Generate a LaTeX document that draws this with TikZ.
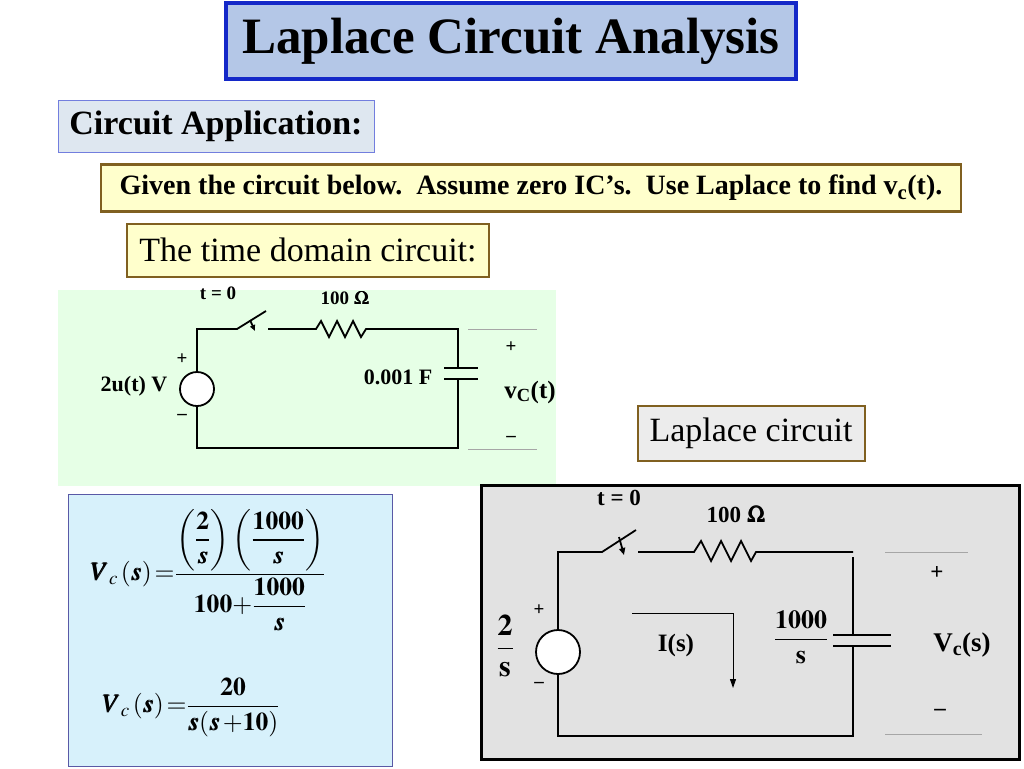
\documentclass[tikz,border=0pt]{standalone}
\usepackage{amsmath}
\usepackage{mathptmx}
\usepackage{bm}
\usepackage{fontspec}
\setmainfont{Liberation Serif}
\usetikzlibrary{arrows.meta}
\definecolor{titlefill}{RGB}{180,199,231}
\definecolor{titleborder}{RGB}{20,40,200}
\definecolor{appfill}{RGB}{222,231,240}
\definecolor{ylw}{RGB}{255,255,204}
\definecolor{brn}{RGB}{128,96,32}
\definecolor{grn}{RGB}{230,255,230}
\definecolor{blu}{RGB}{215,241,251}
\definecolor{gry}{RGB}{226,226,226}
\definecolor{lgry}{RGB}{236,236,236}
\tikzset{
 wire/.style={line width=1.8pt},
 thin/.style={draw=gray!70,line width=0.6pt},
 lbl/.style={font=\bfseries\fontsize{19}{21}\selectfont,inner sep=0},
 glbl/.style={font=\bfseries\fontsize{23}{25}\selectfont,inner sep=0},
 hdr/.style={font=\fontsize{34}{36}\selectfont,inner sep=0},
}
\begin{document}
\begin{tikzpicture}[x=1pt,y=-1pt]
\useasboundingbox[fill=white] (0,0) rectangle (1024,768);
% title
\node[draw=titleborder,line width=3.5pt,fill=titlefill,minimum width=570,minimum height=76,font=\bfseries\fontsize{51}{54}\selectfont] (title) at (511,41) {Laplace Circuit Analysis};
\node[draw=titleborder!60,line width=0.8pt,fill=appfill,minimum width=316,minimum height=52,font=\bfseries\fontsize{34}{36}\selectfont] (app) at (216,126) {Circuit Application:};
\node[draw=brn,line width=2.5pt,fill=ylw,minimum width=860,minimum height=47,font=\bfseries\fontsize{28}{30}\selectfont] (given) at (531,188) {Given the circuit below.\ \ Assume zero IC’s.\ \ Use Laplace to find v\textsubscript{c}(t).};
\node[draw=brn,line width=2pt,fill=ylw,minimum width=362,minimum height=53,hdr] (tdc) at (308,250) {The time domain circuit:};
% green panel
\fill[grn] (58,290) rectangle (556,486);
\coordinate (a1) at (197,329); \coordinate (a2) at (458,329);
\coordinate (a3) at (458,448); \coordinate (a4) at (197,448);
\node[draw,circle,line width=1.8pt,fill=white,minimum size=34,inner sep=0] (src1) at (197,389) {};
\draw[wire] (src1.north) -- (a1) -- (237,329) -- (266,311);
\draw[wire,-{Triangle[length=6,width=5]}] (250,320) -- (255,331);
\draw[wire] (268,329) -- (307,329) -- (316,329) -- (321,321) -- (329,337) -- (337,321) -- (345,337) -- (353,321) -- (361,337) -- (366,329) -- (a2) -- (458,368);
\draw[wire] (444,368) -- (478,368) (444,379) -- (478,379);
\draw[wire] (458,379) -- (a3) -- (a4) -- (src1.south);
\draw[thin] (468,329) -- (537,329) (468,449) -- (537,449);
\node[lbl] at (218,293) {t = 0};
\node[lbl] at (345,298) {100 $\bm{\Omega}$};
\node[lbl] at (182,359) {+};
\node[lbl] at (182,417) {–};
\node[lbl,font=\bfseries\fontsize{22}{24}\selectfont] at (134,386) {2u(t) V};
\node[lbl,font=\bfseries\fontsize{22}{24}\selectfont] at (398,377) {0.001 F};
\node[lbl] at (511,347) {+};
\node[lbl] at (511,439) {–};
\node[lbl,font=\bfseries\fontsize{25}{27}\selectfont] at (530,392) {v\textsubscript{C}(t)};
% laplace label
\node[draw=brn,line width=2pt,fill=lgry,minimum width=227,minimum height=55,hdr] (lc) at (751,433) {Laplace circuit};
% formula box
\node[draw=blue!30!gray,line width=0.8pt,fill=blu,minimum width=324,minimum height=272] (fbox) at (230,630) {};
\node[inner sep=0,font=\fontsize{21}{24}\selectfont] at (208,570) {\scalebox{1.22}{$\bm{V_{c}}\,(\bm{s})\,\mathbf{=}\dfrac{\left(\dfrac{\mathbf{2}}{\bm{s}}\right)\left(\dfrac{\mathbf{1000}}{\bm{s}}\right)}{\mathbf{100+}\dfrac{\mathbf{1000}}{\bm{s}}}$}};
\node[inner sep=0,font=\fontsize{21}{24}\selectfont] at (191,707) {\scalebox{1.22}{$\bm{V_{c}}\,(\bm{s})\,\mathbf{=}\dfrac{\mathbf{20}}{\bm{s}(\bm{s}\,\mathbf{+10})}$}};
% gray panel
\node[draw=black,line width=3pt,fill=gry,minimum width=538,minimum height=274] (gp) at (750,622) {};
\coordinate (b1) at (558,552); \coordinate (b2) at (853,552);
\coordinate (b3) at (853,736); \coordinate (b4) at (558,736);
\node[draw,circle,line width=1.8pt,fill=white,minimum size=44,inner sep=0] (src2) at (558,652) {};
\draw[wire] (src2.north) -- (b1) -- (602,552) -- (636,530);
\draw[wire,-{Triangle[length=7,width=6]}] (619,537) -- (624,555);
\draw[wire] (638,552) -- (685,552) -- (694,552) -- (701,541) -- (711,561) -- (721,541) -- (731,561) -- (741,541) -- (751,561) -- (756,552) -- (b2);
\draw[wire] (853,557) -- (853,635);
\draw[wire] (833,635) -- (891,635) (833,646) -- (891,646);
\draw[wire] (853,646) -- (b3) -- (b4) -- (src2.south);
\coordinate (i1) at (632,613); \coordinate (i2) at (733,613); \coordinate (i3) at (733,688);
\draw[line width=1pt,-{Triangle[length=9,width=6]}] (i1) -- (i2) -- (i3);
\draw[thin] (885,552) -- (968,552) (885,734) -- (982,734);
\node[glbl] at (619,498) {t = 0};
\node[glbl] at (736,514) {100 $\bm{\Omega}$};
\node[lbl] at (539,610) {+};
\node[lbl] at (539,685) {–};
\node[inner sep=0,font=\fontsize{30}{32}\selectfont] at (505,646) {$\dfrac{\mathbf{2}}{\mathbf{s}}$};
\node[inner sep=0,font=\bfseries\fontsize{25}{27}\selectfont] at (676,645) {I(s)};
\node[inner sep=0,font=\fontsize{26}{28}\selectfont] at (801,637) {$\dfrac{\mathbf{1000}}{\mathbf{s}}$};
\node[glbl] at (937,573) {+};
\node[glbl] at (940,712) {–};
\node[inner sep=0,font=\bfseries\fontsize{27}{29}\selectfont] at (962,645) {V\textsubscript{c}(s)};
\end{tikzpicture}
\end{document}
